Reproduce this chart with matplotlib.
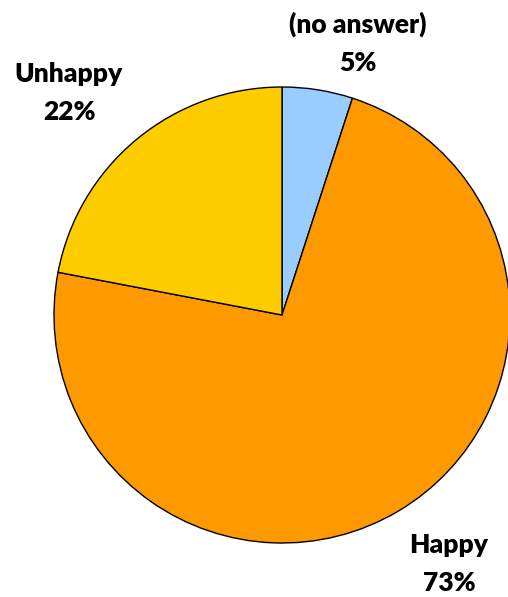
import matplotlib.pyplot as plt

labels = ["(no answer)", "Happy", "Unhappy"]
values = [5, 73, 22]
colours = ["#99CCFF", "#FF9900", "#FFCC00"]

W, H = 508, 597
cx, cy, r = 282, 315, 228

fig = plt.figure(figsize=(W / 100, H / 100), dpi=100)
ax = fig.add_axes([(cx - r) / W, (H - cy - r) / H, 2 * r / W, 2 * r / H])
ax.pie(values, colors=colours, startangle=90, counterclock=False,
       wedgeprops=dict(edgecolor="black", linewidth=1.0))
ax.set_xlim(-1, 1)
ax.set_ylim(-1, 1)
ax.set_aspect("equal")
ax.axis("off")

# label centres in pixels
label_pos = [(358, 43), (449, 564), (69, 93)]
for name, v, (px, py) in zip(labels, values, label_pos):
    fig.text(px / W, 1 - py / H, f"{name}\n{v}%", ha="center", va="center",
             fontsize=19, fontweight="heavy", family="Lato", linespacing=1.7)

fig.savefig("out.png", dpi=100)
